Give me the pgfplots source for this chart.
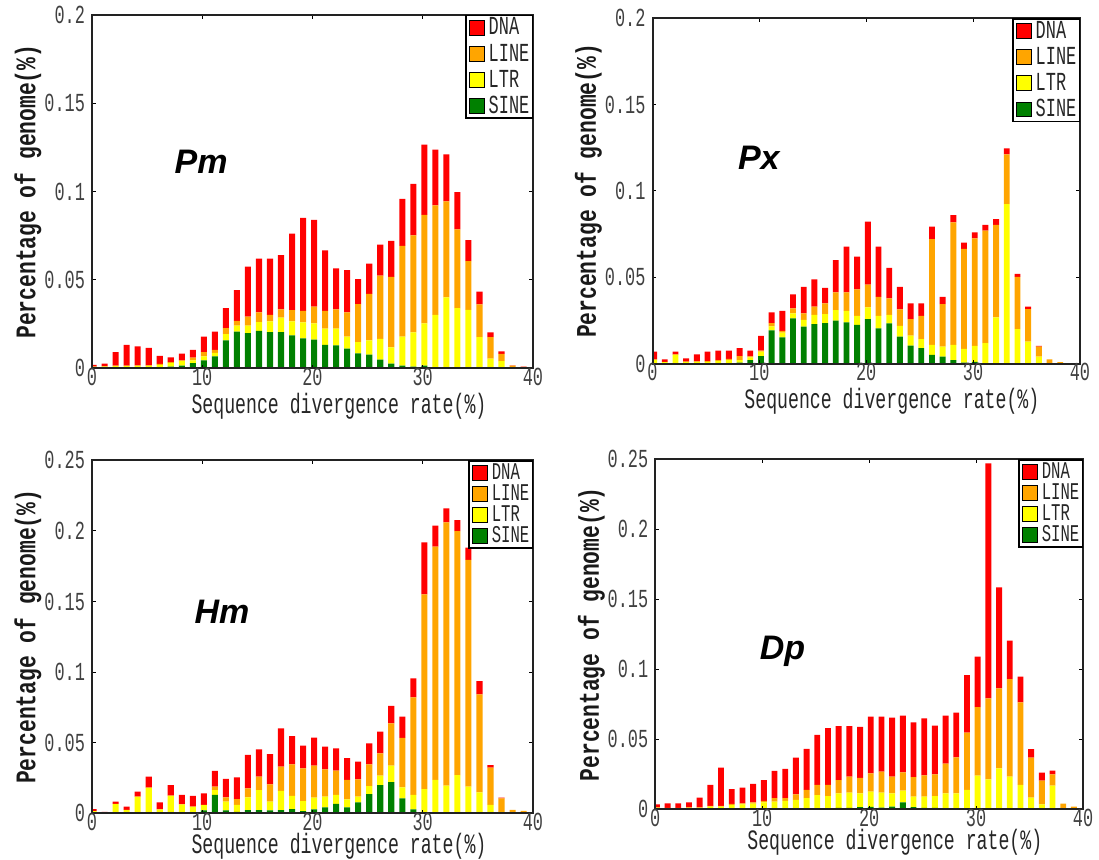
\documentclass[border=0pt]{standalone}
\usepackage{pgfplots}
\pgfplotsset{compat=1.18}
\usepackage{pgfplotstable}
\usepackage{fontspec}
\setmainfont{Liberation Serif}
\newfontfamily\songti[FakeStretch=0.75]{Liberation Mono}
\newfontfamily\songtin[FakeStretch=0.65]{Liberation Mono}
\newfontfamily\arialfont{Liberation Sans}

\definecolor{teDNA}{RGB}{255,0,0}
\definecolor{teLINE}{RGB}{255,165,0}
\definecolor{teLTR}{RGB}{255,255,0}
\definecolor{teSINE}{RGB}{0,128,0}
\definecolor{framecol}{RGB}{34,34,34}

% x = divergence bin (%), then the share of the genome (%) of each repeat class
\pgfplotstableread{
x sine ltr line dna
0 0 0.001 0 0.001
1 0 0.001 0.0003 0.0013
2 0 0.0012 0.0003 0.0077
3 0.0002 0.001 0.0003 0.0118
4 0.0002 0.0011 0.0003 0.0108
5 0.0003 0.0011 0.0003 0.0098
6 0.0005 0.0015 0.0005 0.0046
7 0.001 0.002 0.0005 0.0027
8 0.0015 0.0025 0.0005 0.0038
9 0.003 0.0015 0.0015 0.0045
10 0.0045 0.0023 0.0024 0.0088
11 0.0068 0.002 0.0017 0.0103
12 0.0158 0.0035 0.0034 0.0113
13 0.0208 0.0034 0.0027 0.0174
14 0.0199 0.0043 0.0051 0.0282
15 0.0212 0.0049 0.0056 0.0304
16 0.0205 0.006 0.0037 0.0319
17 0.0205 0.0082 0.0047 0.0306
18 0.0186 0.0079 0.0065 0.0432
19 0.0169 0.0091 0.0065 0.0527
20 0.0162 0.0093 0.0094 0.0491
21 0.0133 0.0091 0.0101 0.0342
22 0.013 0.0094 0.011 0.0231
23 0.0111 0.0069 0.0137 0.0239
24 0.0085 0.0063 0.0216 0.0141
25 0.0077 0.0081 0.0263 0.0172
26 0.0049 0.0118 0.0357 0.0176
27 0.0026 0.0092 0.04 0.0203
28 0.0015 0.0165 0.0513 0.0266
29 0.001 0.0193 0.055 0.0291
30 0.0015 0.024 0.0614 0.0397
31 0.0005 0.0297 0.062 0.0316
32 0 0.0402 0.0543 0.0266
33 0 0.034 0.0447 0.021
34 0 0.0331 0.0276 0.0118
35 0 0.0176 0.0186 0.0072
36 0 0.0055 0.0121 0.0027
37 0 0.004 0.0041 0.0015
38 0 0.0002 0.0013 0.0002
39 0 0 0.0008 0.0002
}\tablePm

\pgfplotstableread{
x sine ltr line dna
0 0 0.002 0.0005 0.0044
1 0 0.0008 0.0002 0.0015
2 0 0.005 0.0004 0.0015
3 0 0.001 0.0002 0.0019
4 0 0.001 0.0003 0.0041
5 0 0.001 0.0004 0.0055
6 0 0.0015 0.0005 0.0055
7 0 0.002 0.0008 0.0047
8 0.0005 0.0015 0.0024 0.0045
9 0.002 0.0016 0.0006 0.0033
10 0.0044 0.0026 0.0005 0.0085
11 0.0193 0.0023 0.0018 0.0063
12 0.0152 0.0028 0.001 0.0115
13 0.0262 0.0029 0.0029 0.0081
14 0.0214 0.0039 0.0038 0.0154
15 0.0229 0.0053 0.0048 0.0158
16 0.0234 0.0053 0.0062 0.009
17 0.0249 0.0061 0.0103 0.0187
18 0.0239 0.0066 0.0108 0.0264
19 0.0224 0.0052 0.0154 0.0189
20 0.0257 0.0069 0.0131 0.0365
21 0.0204 0.0073 0.011 0.029
22 0.0233 0.0049 0.0096 0.0177
23 0.0156 0.0062 0.0096 0.0131
24 0.0104 0.0058 0.0095 0.0092
25 0.0089 0.0053 0.0135 0.0072
26 0.005 0.0058 0.0613 0.0072
27 0.004 0.0058 0.0247 0.0042
28 0.002 0.0088 0.071 0.0042
29 0.0005 0.008 0.0579 0.0036
30 0.001 0.0092 0.0624 0.0034
31 0.0003 0.0115 0.0652 0.0034
32 0 0.0268 0.0535 0.0034
33 0 0.0924 0.0288 0.0035
34 0 0.02 0.0303 0.0016
35 0 0.0127 0.0189 0.0014
36 0 0.004 0.0058 0.0004
37 0 0.0003 0.0022 0
38 0 0 0.0008 0
39 0 0 0.0003 0
}\tablePx

\pgfplotstableread{
x sine ltr line dna
0 0 0.0016 0 0.0014
1 0 0 0.0003 0.0007
2 0 0.0066 0 0.0016
3 0 0.0024 0 0.0023
4 0 0.0118 0 0.0035
5 0 0.0181 0 0.0078
6 0 0.0028 0 0.005
7 0 0.0125 0 0.0075
8 0 0.0064 0 0.0066
9 0 0.0047 0 0.0076
10 0.002 0.0039 0 0.0083
11 0.013 0.0035 0.0024 0.0111
12 0.002 0.0063 0.003 0.013
13 0.001 0.0049 0.0042 0.0154
14 0.0023 0.009 0.0064 0.0236
15 0.0023 0.0142 0.0094 0.0194
16 0.002 0.0063 0.0122 0.0215
17 0.0023 0.0135 0.0172 0.0272
18 0.003 0.0093 0.0224 0.02
19 0.0015 0.0072 0.0232 0.0161
20 0.0028 0.0083 0.0226 0.0199
21 0.0042 0.0076 0.0194 0.016
22 0.0066 0.0064 0.0172 0.0158
23 0.0042 0.0057 0.0137 0.0154
24 0.0078 0.004 0.0123 0.0125
25 0.0135 0.0058 0.0154 0.0149
26 0.02 0.0066 0.0159 0.0153
27 0.022 0.0117 0.03 0.0123
28 0.0106 0.0078 0.0351 0.0149
29 0.0028 0.0102 0.0691 0.0135
30 0.0005 0.0167 0.1379 0.0368
31 0.0003 0.0233 0.1652 0.0149
32 0 0.0196 0.1865 0.0099
33 0 0.0271 0.1728 0.0078
34 0 0.0189 0.1605 0.0087
35 0 0.0149 0.0694 0.0094
36 0 0.0059 0.0264 0.0019
37 0 0.001 0.0095 0.0006
38 0 0 0.0024 0
39 0 0 0.0017 0
}\tableHm

\pgfplotstableread{
x sine ltr line dna
0 0 0.001 0.0003 0.0023
1 0 0.0008 0.0002 0.0033
2 0 0.0008 0.0002 0.0033
3 0 0.001 0.0003 0.0037
4 0 0.001 0.0003 0.007
5 0 0.002 0.0005 0.0149
6 0 0.002 0.0005 0.0272
7 0 0.003 0.0008 0.0107
8 0 0.0035 0.0008 0.0111
9 0 0.004 0.001 0.0131
10 0.0003 0.0047 0.0011 0.0148
11 0.0003 0.0051 0.0025 0.0195
12 0.0003 0.0057 0.0019 0.0209
13 0.0005 0.0062 0.004 0.0262
14 0.0005 0.0074 0.0059 0.0293
15 0.0007 0.0095 0.0072 0.0357
16 0.0007 0.0088 0.0079 0.0405
17 0.001 0.0104 0.0095 0.0386
18 0.001 0.0109 0.0114 0.0362
19 0.0015 0.0099 0.011 0.0364
20 0.0017 0.0109 0.0131 0.0405
21 0.0012 0.0107 0.015 0.0393
22 0.002 0.0094 0.0119 0.0421
23 0.005 0.0083 0.0131 0.0405
24 0.0015 0.0075 0.0139 0.0392
25 0.001 0.008 0.0153 0.0407
26 0.001 0.0085 0.0155 0.0347
27 0.0007 0.0107 0.0212 0.0343
28 0.0005 0.0109 0.0257 0.0319
29 0.0003 0.0135 0.0409 0.0412
30 0 0.024 0.0489 0.0361
31 0 0.0214 0.0579 0.1678
32 0 0.0293 0.0571 0.0722
33 0 0.0233 0.0696 0.0275
34 0 0.0174 0.059 0.0184
35 0 0.0083 0.0286 0.006
36 0 0.0036 0.0169 0.0057
37 0 0.0169 0.0081 0.0026
38 0 0.0005 0.0035 0
39 0 0 0.002 0
}\tableDp

\tikzset{
  panelname/.style={font=\arialfont\bfseries\itshape\fontsize{17}{18}\selectfont, text=black},
}

\pgfplotsset{
  divpanel/.style={
    scale only axis,
    ybar stacked,
    bar width=0.55,
    bar shift=0.8pt,
    xmin=0, xmax=40, ymin=0,
    xtick={0,10,20,30,40},
    xticklabels={0,10,20,30,40},
    tick align=inside,
    major tick length=1.8pt,
    axis on top,
    axis line style={line width=1pt, draw=framecol},
    every tick/.style={black, line width=0.5pt},
    tick label style={font=\songtin\fontsize{13}{14}\selectfont, text=black!75},
    xticklabel style={inner ysep=0.5pt, text height=7.9pt, text depth=0pt},
    xlabel={Sequence divergence rate(\%)},
    ylabel={Percentage of genome(\%)},
    xlabel style={font=\songtin\fontsize{14}{15}\selectfont, text=black!85,
      inner sep=0pt, text height=8pt, text depth=2.5pt,
      at={([yshift=-22.5pt]axis description cs:0.56,0)}, anchor=base},
    ylabel style={font=\songti\bfseries\fontsize{14.2}{15}\selectfont, text=black!90,
      at={([xshift=-32pt]axis description cs:0,0.5)}, anchor=center},
    reverse legend,
    legend cell align=left,
    legend image code/.code={%
      \draw[#1, draw=black, line width=0.5pt] (0pt,-3.7pt) rectangle (7.4pt,3.7pt);},
    legend style={at={(1,1)}, anchor=north east, draw=black, line width=0.7pt,
      fill=white, inner xsep=1.5pt, inner ysep=2pt,
      font=\songtin\fontsize{13}{14}\selectfont, text=black!85,
      nodes={inner sep=0pt, text height=7.6pt, text depth=0.3pt},
      /tikz/every odd column/.append style={column sep=2pt}},
  },
  toprow/.style={legend style={row sep=5.2pt},
    ytick={0,0.05,0.1,0.15,0.2}, yticklabels={0,0.05,0.1,0.15,0.2}, ymax=0.2},
  bottomrow/.style={
    legend style={row sep=2.6pt, font=\songtin\fontsize{12}{13}\selectfont,
      nodes={inner sep=0pt, text height=7pt, text depth=0.3pt}},
    ytick={0,0.05,0.1,0.15,0.2,0.25}, yticklabels={0,0.05,0.1,0.15,0.2,0.25}, ymax=0.25,
    xlabel style={at={([yshift=-20.3pt]axis description cs:0.56,0)}}},
}

\newcommand{\repeatbars}[1]{%
  \addplot[fill=teSINE, draw=none] table[x=x, y=sine] {#1};
  \addplot[fill=teLTR, draw=none] table[x=x, y=ltr] {#1};
  \addplot[fill=teLINE, draw=none] table[x=x, y=line] {#1};
  \addplot[fill=teDNA, draw=none] table[x=x, y=dna] {#1};
  \legend{SINE,LTR,LINE,DNA}
}

\begin{document}
\begin{tikzpicture}
\useasboundingbox (0,0) rectangle (549.5pt,429.5pt);

\begin{axis}[divpanel, toprow, at={(46pt,245.35pt)}, anchor=south west,
  width=220.5pt, height=176.65pt]
  \repeatbars{\tablePm}
  \node[panelname] at (axis cs:9.9,0.117) {Pm};
\end{axis}

\begin{axis}[divpanel, toprow, at={(326.25pt,247.7pt)}, anchor=south west,
  width=213.75pt, height=172.65pt]
  \repeatbars{\tablePx}
  \node[panelname] at (axis cs:9.95,0.119) {Px};
\end{axis}

\begin{axis}[divpanel, bottomrow, at={(46pt,22.85pt)}, anchor=south west,
  width=220.5pt, height=176.5pt]
  \repeatbars{\tableHm}
  \node[panelname] at (axis cs:11.8,0.143) {Hm};
\end{axis}

\begin{axis}[divpanel, bottomrow, at={(327.65pt,24.85pt)}, anchor=south west,
  width=213.85pt, height=175pt]
  \repeatbars{\tableDp}
  \node[panelname] at (axis cs:11.9,0.113) {Dp};
\end{axis}
\end{tikzpicture}
\end{document}
